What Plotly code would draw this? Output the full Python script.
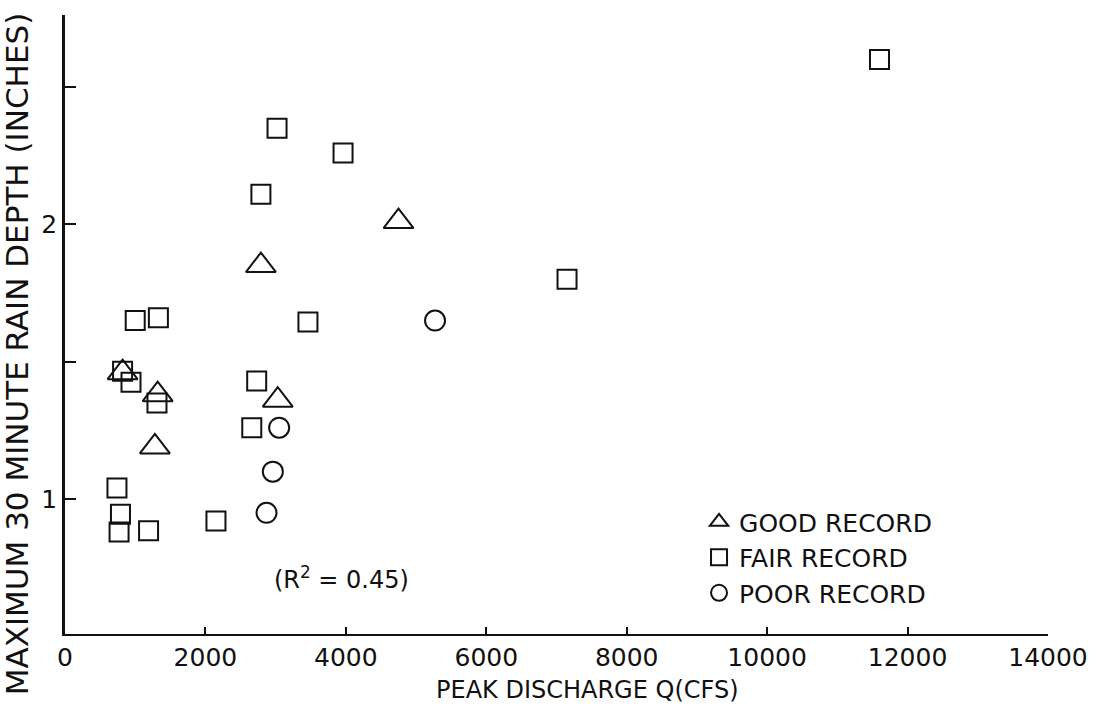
import plotly.graph_objects as go

# Peak discharge Q (cfs) vs maximum 30-minute rain depth (inches)
good_q = [820, 1280, 1320, 2790, 3030, 4750]
good_depth = [1.46, 1.19, 1.38, 1.85, 1.36, 2.01]

fair_q = [11600, 3020, 3960, 2790, 7150, 1000, 1330, 3460, 820, 940,
          2730, 1310, 2660, 740, 790, 770, 1190, 2150]
fair_depth = [2.60, 2.35, 2.26, 2.11, 1.80, 1.65, 1.66, 1.645, 1.465, 1.425,
              1.43, 1.35, 1.26, 1.04, 0.945, 0.88, 0.885, 0.92]

poor_q = [5270, 3050, 2960, 2870]
poor_depth = [1.65, 1.26, 1.10, 0.95]

x_tick_vals = [0, 2000, 4000, 6000, 8000, 10000, 12000, 14000]
x_tick_text = ["0", "2000", "4000", "6000", "8000", "10000", "12000", "14000"]
y_tick_vals = [1, 2]
y_tick_text = ["1", "2"]
y_minor_vals = [1.5, 2.5]

FONT = "DejaVu Sans"
INK = "#111111"

fig = go.Figure()
fig.add_trace(go.Scatter(
    x=good_q, y=good_depth, mode="markers", name="GOOD RECORD",
    marker=dict(symbol="triangle-up-open", size=26, color=INK,
                line=dict(width=2, color=INK))))
fig.add_trace(go.Scatter(
    x=fair_q, y=fair_depth, mode="markers", name="FAIR RECORD",
    marker=dict(symbol="square-open", size=19, color=INK,
                line=dict(width=2, color=INK))))
fig.add_trace(go.Scatter(
    x=poor_q, y=poor_depth, mode="markers", name="POOR RECORD",
    marker=dict(symbol="circle-open", size=20, color=INK,
                line=dict(width=2, color=INK))))

fig.update_layout(
    width=1102, height=717,
    margin=dict(l=65, r=54, t=15, b=83),
    paper_bgcolor="white", plot_bgcolor="white",
    font=dict(family=FONT, color=INK, size=24),
    showlegend=True,
    legend=dict(x=0.645, y=0.218, xanchor="left", yanchor="top",
                font=dict(family=FONT, size=25, color=INK),
                bgcolor="rgba(0,0,0,0)", itemsizing="trace",
                tracegroupgap=0),
    xaxis=dict(range=[0, 14000], tickvals=x_tick_vals, ticktext=x_tick_text,
               ticks="inside", ticklen=7, tickwidth=1.5, tickcolor=INK,
               showline=True, linecolor=INK, linewidth=2, mirror=False,
               showgrid=False, zeroline=False,
               tickfont=dict(family=FONT, size=25, color=INK)),
    yaxis=dict(range=[0.509, 2.762], tickvals=y_tick_vals, ticktext=y_tick_text,
               ticks="inside", ticklen=11, tickwidth=2, tickcolor=INK,
               showline=True, linecolor=INK, linewidth=2.5, mirror=False,
               showgrid=False, zeroline=False,
               minor=dict(tickvals=y_minor_vals, ticks="inside", ticklen=11,
                          tickwidth=2, tickcolor=INK, showgrid=False),
               tickfont=dict(family=FONT, size=25, color=INK)),
    annotations=[
        dict(text="MAXIMUM 30 MINUTE RAIN DEPTH (INCHES)", xref="paper", yref="paper",
             x=-0.0488, y=0.452, xanchor="center", yanchor="middle", textangle=-90,
             showarrow=False, font=dict(family=FONT, size=31, color=INK)),
        dict(text="PEAK DISCHARGE Q(CFS)", xref="paper", yref="paper",
             x=0.532, y=-0.0905, xanchor="center", yanchor="middle",
             showarrow=False, font=dict(family=FONT, size=24, color=INK)),
        dict(text="(R<sup>2</sup> = 0.45)", xref="x", yref="y",
             x=2950, y=0.712, xanchor="left", yanchor="middle",
             showarrow=False, font=dict(family=FONT, size=24, color=INK)),
    ],
)

fig.write_html("out.html")
